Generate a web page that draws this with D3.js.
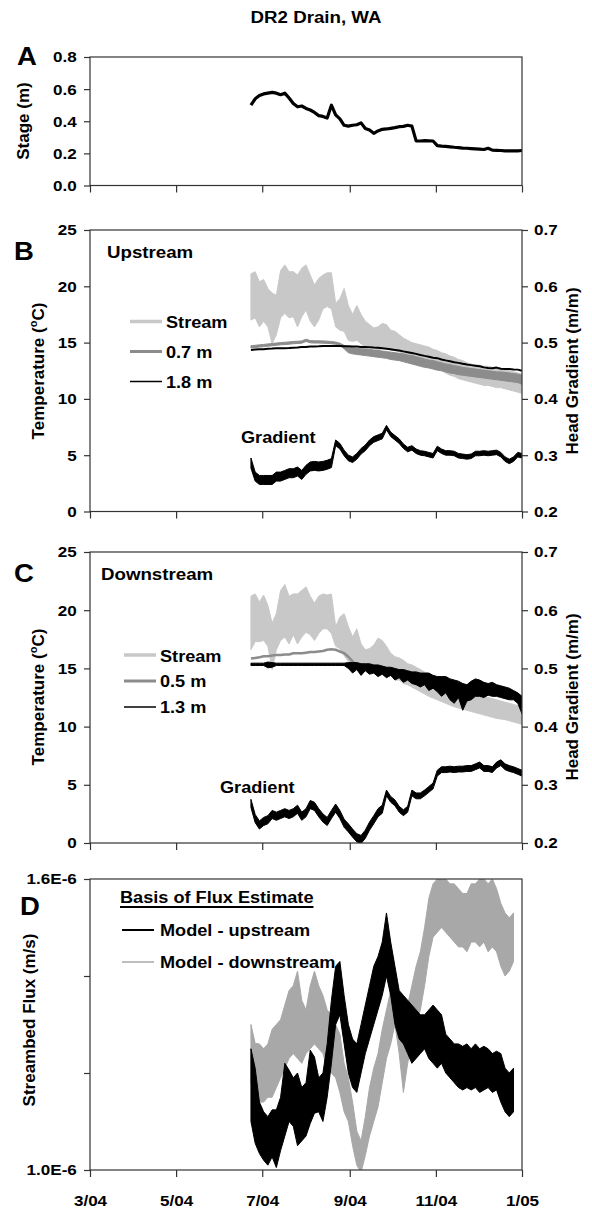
<!DOCTYPE html>
<html><head><meta charset="utf-8">
<script src="https://cdn.jsdelivr.net/npm/d3@7"></script>
<style>
body{margin:0;background:#fff;}
svg text{font-family:"Liberation Sans",Arial,Helvetica,sans-serif;font-weight:bold;fill:#000;}
</style></head><body>
<svg id="chart" width="592" height="1209"></svg>
<script>
// ---------------- DATA ----------------
// readings sampled every 3 days starting 23 Jun 2004
const startDate = new Date(2004, 5, 23);
const sampleStepDays = 3;
const sampleDates = d3.range(65).map(i => d3.timeDay.offset(startDate, i * sampleStepDays));

const xTickDates = [new Date(2004,2,1), new Date(2004,4,1), new Date(2004,6,1), new Date(2004,8,1), new Date(2004,10,1), new Date(2005,0,1)];
const xTickLabels = ["3/04","5/04","7/04","9/04","11/04","1/05"];
const stageTicks = [0, 0.2, 0.4, 0.6, 0.8];
const tempTicks = [0, 5, 10, 15, 20, 25];
const gradTicks = [0.2, 0.3, 0.4, 0.5, 0.6, 0.7];
const fluxTicks = [1.0, 1.2, 1.4, 1.6];
const fluxTickLabels = ["1.0E-6", "", "", "1.6E-6"];

// Panel A: stage (m)
const stage = [0.50,0.54,0.56,0.57,0.575,0.58,0.575,0.565,0.575,0.545,0.51,0.49,0.495,0.48,0.47,0.455,0.435,0.43,0.42,0.50,0.44,0.415,0.375,0.37,0.375,0.378,0.39,0.355,0.345,0.325,0.34,0.35,0.352,0.356,0.36,0.366,0.368,0.375,0.37,0.278,0.277,0.279,0.278,0.277,0.248,0.245,0.244,0.241,0.238,0.236,0.233,0.232,0.23,0.228,0.226,0.224,0.232,0.22,0.219,0.218,0.216,0.215,0.215,0.216,0.218];

// Panel B: upstream temperatures (deg C) and head gradient
const upStreamLo = [17.0,17.2,16.4,16.9,16.4,14.9,15.7,17.2,17.6,17.2,17.3,16.4,17.3,17.9,16.9,16.4,17.0,18.0,18.2,18.0,16.4,16.1,16.0,15.2,15.1,15.2,14.9,14.6,14.6,14.5,14.3,14.5,14.5,14.3,14.3,14.2,14.0,13.9,13.8,13.6,13.5,13.3,13.2,13.0,12.8,12.5,12.3,12.1,12.0,11.8,11.7,11.6,11.5,11.4,11.3,11.2,11.2,11.1,11.0,11.0,10.9,10.8,10.7,10.6,10.5];
const upStreamHi = [21.1,21.3,20.4,20.6,19.8,19.4,19.2,21.4,21.9,21.3,21.3,21.0,21.6,21.9,21.0,20.1,20.7,21.0,21.2,21.2,18.5,18.9,19.8,18.3,17.5,18.3,17.5,16.9,16.6,16.3,16.4,16.7,16.6,16.1,16.0,15.7,15.4,15.2,15.0,14.9,14.8,14.7,14.6,14.4,14.3,14.1,14.0,13.8,13.7,13.5,13.4,13.2,13.1,13.0,13.0,12.9,12.9,12.8,12.8,12.7,12.6,12.5,12.4,12.3,12.2];
const up07Lo = [14.52,14.56,14.6,14.64,14.68,14.72,14.76,14.8,14.83,14.86,14.9,14.92,14.95,15.1,14.98,14.96,14.96,14.95,14.93,14.9,14.85,14.75,14.45,14.1,14.0,13.95,13.9,13.85,13.8,13.75,13.7,13.65,13.6,13.5,13.45,13.4,13.3,13.2,13.1,13.0,12.9,12.8,12.75,12.65,12.55,12.5,12.4,12.3,12.25,12.15,12.1,12.05,12.0,11.95,11.9,11.85,11.8,11.75,11.7,11.65,11.6,11.55,11.5,11.45,11.3];
const up07Hi = [14.72,14.76,14.8,14.84,14.88,14.92,14.96,15.0,15.03,15.06,15.1,15.12,15.15,15.3,15.18,15.16,15.16,15.15,15.13,15.1,15.05,14.95,14.75,14.6,14.55,14.5,14.45,14.45,14.4,14.35,14.3,14.25,14.2,14.15,14.1,14.05,14.0,13.9,13.85,13.75,13.65,13.55,13.45,13.4,13.3,13.2,13.1,13.05,12.95,12.9,12.8,12.75,12.7,12.65,12.6,12.55,12.5,12.45,12.4,12.4,12.35,12.3,12.25,12.2,12.1];
const up18 = [14.35,14.38,14.4,14.42,14.45,14.47,14.5,14.5,14.5,14.52,14.55,14.57,14.6,14.62,14.65,14.65,14.67,14.7,14.7,14.7,14.7,14.7,14.68,14.67,14.65,14.65,14.62,14.6,14.58,14.56,14.55,14.5,14.45,14.4,14.35,14.3,14.22,14.15,14.08,14.0,13.9,13.82,13.75,13.65,13.62,13.5,13.42,13.35,13.25,13.2,13.12,13.05,13.0,12.95,12.9,12.8,12.75,12.72,12.78,12.68,12.66,12.65,12.62,12.6,12.5];
const upGradLo = [0.277,0.254,0.248,0.248,0.248,0.248,0.254,0.254,0.257,0.26,0.26,0.263,0.257,0.266,0.272,0.273,0.272,0.273,0.275,0.278,0.317,0.311,0.299,0.29,0.287,0.293,0.302,0.308,0.317,0.323,0.326,0.329,0.345,0.333,0.327,0.321,0.312,0.306,0.309,0.303,0.3,0.299,0.297,0.295,0.308,0.303,0.3,0.3,0.299,0.295,0.294,0.293,0.294,0.299,0.299,0.3,0.299,0.3,0.301,0.297,0.289,0.285,0.289,0.297,0.295];
const upGradHi = [0.295,0.27,0.264,0.264,0.264,0.264,0.27,0.27,0.273,0.276,0.276,0.279,0.273,0.282,0.288,0.289,0.288,0.289,0.291,0.294,0.327,0.321,0.309,0.3,0.297,0.303,0.312,0.318,0.327,0.333,0.336,0.339,0.353,0.341,0.335,0.329,0.32,0.314,0.317,0.311,0.308,0.307,0.305,0.303,0.316,0.311,0.308,0.308,0.307,0.303,0.302,0.301,0.302,0.307,0.307,0.308,0.307,0.308,0.309,0.305,0.297,0.293,0.297,0.305,0.303];

// Panel C: downstream temperatures (deg C) and head gradient
const dnStreamLo = [16.6,17.3,17.3,17.4,16.9,14.9,16.6,17.4,17.7,17.1,17.9,17.1,17.7,18.1,17.9,17.4,18.0,18.4,18.4,18.0,16.9,16.7,16.1,15.6,15.3,15.4,15.1,14.9,14.7,14.6,14.3,14.9,14.6,14.6,14.0,14.0,13.7,13.6,13.4,13.2,13.0,12.8,12.6,12.45,12.3,12.15,12.0,11.85,11.7,11.6,11.5,11.4,11.3,11.2,11.1,11.0,10.9,10.8,10.7,10.65,10.6,10.5,10.4,10.3,10.2];
const dnStreamHi = [21.2,21.4,20.7,21.3,20.4,18.9,19.7,21.7,22.2,21.2,21.4,21.4,21.7,22.0,21.2,20.6,21.2,21.4,21.3,21.4,18.6,19.4,19.7,18.6,17.7,18.4,17.1,16.6,16.7,17.0,17.6,17.4,16.9,16.3,16.0,15.9,15.7,15.4,15.3,15.1,14.9,14.7,14.5,14.4,14.2,14.0,13.8,13.7,13.5,13.35,13.2,13.1,13.0,12.9,12.7,12.6,12.5,12.4,12.3,12.2,12.1,12.0,11.9,11.8,11.6];
const dn05 = [15.85,15.9,15.95,16.05,16.05,16.1,16.15,16.15,16.2,16.2,16.3,16.3,16.3,16.35,16.4,16.4,16.45,16.5,16.6,16.65,16.6,16.45,16.3,16.0,15.6,15.2,15.0,15.0,14.9,14.8,14.7,14.7,14.6,14.6,14.4,14.4,14.2,14.3,14.1,14.0,13.9,13.9,13.7,13.7,13.5,13.3,13.4,13.1,12.9,13.0,12.5,12.8,12.9,13.1,13.1,13.0,13.0,13.0,12.9,12.8,12.7,12.6,12.5,12.3,11.8];
const dn13Lo = [15.25,15.25,15.25,15.25,15.05,15.1,15.25,15.25,15.25,15.25,15.25,15.25,15.25,15.25,15.25,15.25,15.25,15.25,15.25,15.25,15.25,15.25,15.25,15.0,14.6,14.9,14.4,14.8,14.5,14.6,14.3,14.5,14.2,14.4,14.0,14.2,13.8,14.0,13.7,13.6,13.4,13.6,13.1,13.3,13.0,12.6,12.9,12.3,12.0,12.5,11.4,12.2,12.3,12.6,12.6,12.5,12.7,12.6,12.6,12.5,12.4,12.3,12.3,12.0,11.1];
const dn13Hi = [15.45,15.45,15.45,15.45,15.55,15.5,15.45,15.45,15.45,15.45,15.45,15.45,15.45,15.45,15.45,15.45,15.45,15.45,15.45,15.45,15.45,15.45,15.45,15.5,15.5,15.5,15.4,15.4,15.4,15.3,15.3,15.2,15.1,15.1,15.0,14.9,14.9,14.8,14.7,14.7,14.6,14.6,14.6,14.4,14.3,14.3,14.3,14.1,14.0,13.9,13.7,13.6,13.9,14.1,14.0,13.8,13.7,13.8,13.6,13.5,13.4,13.3,13.1,12.9,12.6];
const dnGradLo = [0.261,0.235,0.224,0.23,0.233,0.242,0.239,0.242,0.245,0.242,0.245,0.251,0.239,0.245,0.259,0.256,0.245,0.236,0.23,0.242,0.253,0.242,0.227,0.219,0.21,0.202,0.199,0.208,0.222,0.233,0.245,0.251,0.281,0.27,0.264,0.253,0.247,0.253,0.281,0.276,0.276,0.281,0.287,0.293,0.315,0.321,0.321,0.322,0.321,0.322,0.322,0.323,0.323,0.326,0.329,0.323,0.323,0.321,0.329,0.333,0.326,0.323,0.321,0.318,0.315];
const dnGradHi = [0.275,0.249,0.238,0.244,0.247,0.256,0.253,0.256,0.259,0.256,0.259,0.265,0.253,0.259,0.273,0.27,0.259,0.25,0.244,0.256,0.267,0.256,0.241,0.233,0.224,0.216,0.213,0.222,0.236,0.247,0.259,0.265,0.291,0.28,0.274,0.263,0.257,0.263,0.291,0.286,0.286,0.291,0.297,0.303,0.325,0.331,0.331,0.332,0.331,0.332,0.332,0.333,0.333,0.336,0.339,0.333,0.333,0.331,0.339,0.343,0.336,0.333,0.331,0.328,0.325];

// Panel D: streambed flux (units of 1E-6 m/s)
const fluxUpLo = [1.10,1.055,1.034,1.02,1.01,1.027,1.005,1.04,1.07,1.10,1.09,1.05,1.06,1.07,1.096,1.117,1.12,1.10,1.15,1.22,1.30,1.32,1.26,1.20,1.17,1.16,1.20,1.24,1.27,1.30,1.33,1.36,1.40,1.36,1.30,1.27,1.26,1.24,1.22,1.23,1.24,1.25,1.23,1.22,1.21,1.22,1.20,1.19,1.18,1.17,1.165,1.17,1.165,1.17,1.16,1.165,1.17,1.16,1.165,1.14,1.12,1.11,1.12];
const fluxUpHi = [1.25,1.21,1.14,1.12,1.11,1.124,1.124,1.15,1.22,1.206,1.19,1.20,1.17,1.18,1.247,1.233,1.19,1.20,1.26,1.35,1.42,1.43,1.36,1.30,1.27,1.26,1.30,1.34,1.38,1.42,1.44,1.47,1.53,1.47,1.42,1.37,1.36,1.35,1.34,1.33,1.32,1.32,1.33,1.34,1.33,1.32,1.28,1.27,1.26,1.26,1.255,1.26,1.25,1.26,1.25,1.255,1.25,1.24,1.245,1.24,1.21,1.20,1.21];
const fluxDnLo = [1.18,1.144,1.14,1.14,1.15,1.15,1.17,1.19,1.21,1.23,1.24,1.23,1.22,1.24,1.25,1.26,1.25,1.24,1.21,1.20,1.19,1.16,1.12,1.10,1.05,1.01,0.995,1.03,1.07,1.10,1.13,1.18,1.23,1.26,1.30,1.24,1.16,1.22,1.26,1.30,1.33,1.38,1.44,1.48,1.49,1.50,1.49,1.48,1.47,1.46,1.46,1.45,1.47,1.47,1.46,1.47,1.45,1.46,1.45,1.42,1.40,1.41,1.43];
const fluxDnHi = [1.30,1.261,1.26,1.25,1.26,1.29,1.30,1.31,1.34,1.37,1.38,1.41,1.35,1.33,1.38,1.41,1.38,1.36,1.33,1.32,1.30,1.28,1.22,1.19,1.14,1.08,1.06,1.11,1.17,1.21,1.24,1.29,1.33,1.37,1.41,1.36,1.27,1.34,1.38,1.42,1.45,1.50,1.56,1.59,1.60,1.60,1.60,1.59,1.59,1.58,1.57,1.57,1.59,1.59,1.60,1.60,1.59,1.60,1.58,1.55,1.53,1.52,1.53];

// ---------------- DRAWING ----------------
const svg = d3.select("#chart");
const FONT = '"Liberation Sans", Arial, Helvetica, sans-serif';
const L = 90, R = 522;
const AX = "#333";
const SX = 1.1; // horizontal glyph stretch seen in the reference
const C_STREAM = "#c8c8c8", C_MID = "#8c8c8c", C_DN = "#a8a8a8";

svg.append("rect").attr("width", 592).attr("height", 1209).attr("fill", "#fff");

const x = d3.scaleTime().domain([xTickDates[0], xTickDates[5]]).range([L, R]);

function plotGroup(top, bottom, id) {
  svg.append("clipPath").attr("id", id).append("rect")
    .attr("x", L).attr("y", top).attr("width", R - L).attr("height", bottom - top);
  return svg.append("g").attr("clip-path", `url(#${id})`);
}
function band(g, lo, hi, y, color) {
  g.append("path").datum(d3.range(lo.length))
    .attr("d", d3.area().x(i => x(sampleDates[i])).y0(i => y(lo[i])).y1(i => y(hi[i])))
    .attr("fill", color).attr("stroke", color).attr("stroke-width", 1).attr("stroke-linejoin", "round");
}
function line(g, vals, y, color, w) {
  g.append("path").datum(d3.range(vals.length))
    .attr("d", d3.line().x(i => x(sampleDates[i])).y(i => y(vals[i])))
    .attr("fill", "none").attr("stroke", color).attr("stroke-width", w).attr("stroke-linejoin", "round");
}
function styleAxis(g) {
  g.attr("font-family", FONT).attr("font-size", 15.5).attr("font-weight", "bold");
  g.select(".domain").remove();
  g.selectAll(".tick line").attr("stroke", AX).attr("stroke-width", 1.2);
  g.selectAll(".tick text").attr("fill", "#000").attr("transform", `scale(${SX},1)`);
}
function box(top, bottom) {
  svg.append("rect").attr("x", L).attr("y", top).attr("width", R - L).attr("height", bottom - top)
    .attr("fill", "none").attr("stroke", AX).attr("stroke-width", 1.2);
}
function xAxis(bottom, withLabels) {
  const g = svg.append("g").attr("transform", `translate(0,${bottom})`)
    .call(d3.axisBottom(x).tickValues(xTickDates).tickSize(7).tickSizeOuter(0).tickPadding(18)
      .tickFormat((d, i) => withLabels ? xTickLabels[i] : ""));
  styleAxis(g);
}
function leftAxis(y, ticks, fmt) {
  const g = svg.append("g").attr("transform", `translate(${L},0)`)
    .call(d3.axisLeft(y).tickValues(ticks).tickSize(6).tickSizeOuter(0).tickPadding(6).tickFormat(fmt));
  styleAxis(g);
}
function rightAxis(y, ticks, fmt) {
  const g = svg.append("g").attr("transform", `translate(${R},0)`)
    .call(d3.axisRight(y).tickValues(ticks).tickSize(6).tickSizeOuter(0).tickPadding(5).tickFormat(fmt));
  styleAxis(g);
}
function text(str, xp, yp, size, anchor) {
  return svg.append("text").attr("transform", `translate(${xp},${yp}) scale(${SX},1)`)
    .attr("font-size", size).attr("text-anchor", anchor || "start").text(str);
}
function vtext(str, xp, yp, size) {
  return svg.append("text").attr("transform", `translate(${xp},${yp}) rotate(-90)`)
    .attr("font-size", size).attr("text-anchor", "middle").text(str);
}
function tempTitle(xp, yp) {
  const t = svg.append("text").attr("transform", `translate(${xp},${yp}) rotate(-90)`)
    .attr("font-size", 17).attr("text-anchor", "middle");
  t.append("tspan").text("Temperature (");
  t.append("tspan").attr("font-size", 11).attr("dy", -7).text("o");
  t.append("tspan").attr("dy", 7).text("C)");
}
function legendLine(x1, x2, yp, color, w) {
  svg.append("line").attr("x1", x1).attr("x2", x2).attr("y1", yp).attr("y2", yp)
    .attr("stroke", color).attr("stroke-width", w);
}
const f1 = d3.format(".1f");

// Title
text("DR2 Drain, WA", 316, 23, 17, "middle");

// ---- Panel A ----
const yA = d3.scaleLinear().domain([0, 0.8]).range([185.5, 57]);
const gA = plotGroup(57, 185.5, "clipA");
line(gA, stage, yA, "#000", 3.2);
box(57, 185.5);
leftAxis(yA, stageTicks, f1);
xAxis(185.5, false);
text("A", 17, 65, 25);
vtext("Stage (m)", 29, 121, 17);

// ---- Panel B ----
const yB = d3.scaleLinear().domain([0, 25]).range([511.5, 230]);
const gBs = d3.scaleLinear().domain([0.2, 0.7]).range([511.5, 230]);
const gB = plotGroup(230, 511.5, "clipB");
band(gB, upStreamLo, upStreamHi, yB, C_STREAM);
band(gB, up07Lo, up07Hi, yB, C_MID);
line(gB, up18, yB, "#000", 2);
band(gB, upGradLo, upGradHi, gBs, "#000");
box(230, 511.5);
leftAxis(yB, tempTicks, d3.format("d"));
rightAxis(gBs, gradTicks, f1);
xAxis(511.5, false);
text("B", 14, 260, 25);
text("Upstream", 107, 258, 17);
text("Gradient", 241, 443, 16.5);
legendLine(130, 162, 321.5, C_STREAM, 3.5); text("Stream", 166, 328, 16.5);
legendLine(130, 162, 351.5, C_MID, 3); text("0.7 m", 166, 358, 16.5);
legendLine(130, 162, 381.5, "#000", 1.5); text("1.8 m", 166, 388, 16.5);
tempTitle(44, 371);
vtext("Head Gradient (m/m)", 578, 371, 17);

// ---- Panel C ----
const yC = d3.scaleLinear().domain([0, 25]).range([843, 552]);
const gCs = d3.scaleLinear().domain([0.2, 0.7]).range([843, 552]);
const gC = plotGroup(552, 843, "clipC");
band(gC, dnStreamLo, dnStreamHi, yC, C_STREAM);
line(gC, dn05, yC, C_MID, 2.5);
band(gC, dn13Lo, dn13Hi, yC, "#000");
band(gC, dnGradLo, dnGradHi, gCs, "#000");
box(552, 843);
leftAxis(yC, tempTicks, d3.format("d"));
rightAxis(gCs, gradTicks, f1);
xAxis(843, false);
text("C", 14, 582, 25);
text("Downstream", 101, 580, 17);
text("Gradient", 220, 793, 16.5);
legendLine(124, 156, 655, C_STREAM, 3.5); text("Stream", 160, 661.5, 16.5);
legendLine(124, 156, 681, C_MID, 3); text("0.5 m", 160, 687, 16.5);
legendLine(124, 156, 707, "#000", 1.5); text("1.3 m", 160, 713, 16.5);
tempTitle(44, 697);
vtext("Head Gradient (m/m)", 578, 697, 17);

// ---- Panel D ----
const yD = d3.scaleLinear().domain([1.0, 1.6]).range([1170, 879]);
const gD = plotGroup(879, 1170, "clipD");
band(gD, fluxDnLo, fluxDnHi, yD, C_DN);
band(gD, fluxUpLo, fluxUpHi, yD, "#000");
box(879, 1170);
leftAxis(yD, fluxTicks, (d, i) => fluxTickLabels[i]);
xAxis(1170, true);
text("D", 20, 915, 25);
const basis = text("Basis of Flux Estimate", 120, 903, 16.5);
const bw = basis.node().getComputedTextLength() * SX;
svg.append("line").attr("x1", 120).attr("x2", 120 + bw).attr("y1", 907).attr("y2", 907)
  .attr("stroke", "#000").attr("stroke-width", 2);
legendLine(122, 154, 930, "#000", 2); text("Model - upstream", 160, 936, 16.5);
legendLine(122, 154, 962, C_DN, 1.5); text("Model - downstream", 160, 968, 16.5);
vtext("Streambed Flux (m/s)", 35, 1020, 17);
</script></body></html>
